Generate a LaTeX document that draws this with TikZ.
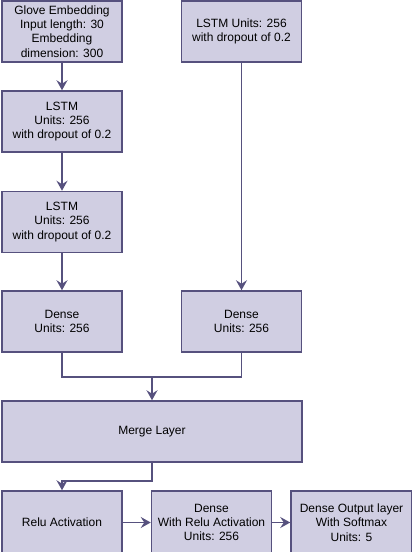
\documentclass[tikz,border=0pt]{standalone}
\usepackage{fontspec}
\setmainfont{Liberation Sans}
\usetikzlibrary{arrows.meta}
\definecolor{layerfill}{HTML}{D0CEE2}
\definecolor{layerline}{HTML}{56517E}
\begin{document}
\begin{tikzpicture}[x=1pt, y=1pt,
        layer/.style={draw=layerline, fill=layerfill, line width=1.5pt,
            minimum width=120pt, minimum height=61pt, inner sep=0pt,
            align=center, font=\fontsize{12}{14.3}\selectfont},
        link/.style={draw=layerline, line width=1.5pt},
        arrow/.style={link, -{Stealth[length=10pt, width=11pt, inset=3.5pt]}}]
        \useasboundingbox (0, 0) rectangle (412, -552);
        \node[layer] (glove) at (62, -31.5) {Glove Embedding\\Input length: 30\\Embedding\\dimension: 300};
        \node[layer] (lstmR) at (241.5, -31.5) {LSTM Units: 256\\with dropout of 0.2};
        \node[layer] (lstmA) at (62, -121.5) {LSTM\\Units: 256\\with dropout of 0.2};
        \node[layer] (lstmB) at (62, -222) {LSTM\\Units: 256\\with dropout of 0.2};
        \node[layer] (denseL) at (62, -321.5) {Dense\\Units: 256};
        \node[layer] (denseR) at (241.5, -321.5) {Dense\\Units: 256};
        \node[layer, minimum width=300pt] (merge) at (152, -431.5) {Merge Layer};
        \node[layer, minimum height=63pt] (relu) at (62, -522.5) {Relu Activation};
        \node[layer, minimum height=63pt] (denseRelu) at (211.5, -522.5) {Dense\\With Relu Activation\\Units: 256};
        \node[layer, minimum height=63pt, minimum width=121pt] (output) at (351.5, -522.5) {Dense Output layer\\With Softmax\\Units: 5};
        \coordinate (join) at (152, -377);
        \coordinate (bend) at (152, -481);
        \draw[arrow] (glove) -- (lstmA);
        \draw[arrow] (lstmA) -- (lstmB);
        \draw[arrow] (lstmB) -- (denseL);
        \draw[arrow] (lstmR) -- (denseR);
        \draw[link] (denseL) |- (join) -| (denseR);
        \draw[arrow] (join) -- (merge);
        \draw[arrow] (merge) -- (bend) -| (relu);
        \draw[arrow] (relu) -- (denseRelu);
        \draw[arrow] (denseRelu) -- (output);
    \end{tikzpicture}
\end{document}
